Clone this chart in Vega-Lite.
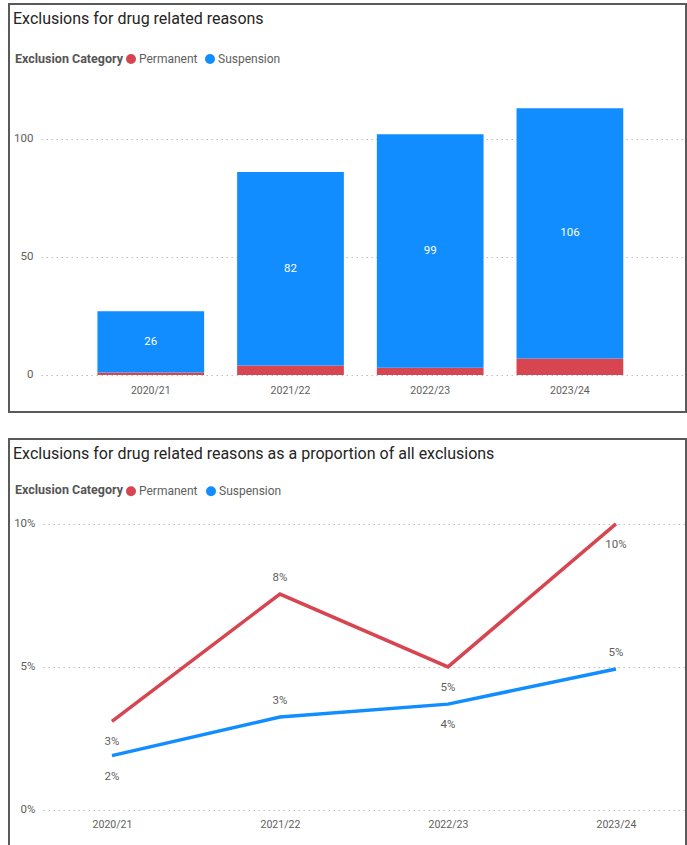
{
  "$schema": "https://vega.github.io/schema/vega-lite/v6.json",
  "padding": {"left": 8, "top": 3, "right": 2, "bottom": 0},
  "background": "white",
  "spacing": 25,
  "resolve": {"scale": {"color": "independent"}, "legend": {"color": "independent"}},
  "config": {
    "font": "Roboto",
    "view": {"stroke": "#5a5a5a", "strokeWidth": 2},
    "axisY": {"title": null, "domain": false, "ticks": false, "labelColor": "#605E5C", "labelFontSize": 11.5, "gridColor": "#bdbdbd", "gridWidth": 1},
    "axisX": {"title": null, "domain": false, "ticks": false, "grid": false, "labelAngle": 0, "labelColor": "#605E5C", "labelFontSize": 10.5, "labelPadding": -27},
    "legend": {"orient": "none", "direction": "horizontal", "titleOrient": "left", "titleAnchor": "middle", "titleBaseline": "middle", "titleFontSize": 12.5, "titleFontWeight": "bold", "titleColor": "#555555", "labelFontSize": 12, "labelColor": "#605E5C", "symbolType": "circle", "symbolSize": 100, "symbolStrokeWidth": 0, "labelOffset": 2, "columnPadding": 6, "titlePadding": 1},
    "title": {"anchor": "start", "frame": "group", "baseline": "alphabetic", "offset": -23, "dx": 4, "fontSize": 16, "fontWeight": "normal", "color": "#252423"}
  },
  "vconcat": [
    {
      "width": 677,
      "height": 408,
      "title": {"text": "Exclusions for drug related reasons"},
      "data": {"values": [
        {"year": "2020/21", "category": "Permanent", "count": 1},
        {"year": "2020/21", "category": "Suspension", "count": 26},
        {"year": "2021/22", "category": "Permanent", "count": 4},
        {"year": "2021/22", "category": "Suspension", "count": 82},
        {"year": "2022/23", "category": "Permanent", "count": 3},
        {"year": "2022/23", "category": "Suspension", "count": 99},
        {"year": "2023/24", "category": "Permanent", "count": 7},
        {"year": "2023/24", "category": "Suspension", "count": 106}
      ]},
      "encoding": {
        "x": {"field": "year", "type": "nominal", "scale": {"paddingInner": 0.236, "paddingOuter": 0.541, "align": 0.585}, "axis": {"labelPadding": -27}}
      },
      "layer": [
        {
          "mark": {"type": "bar"},
          "encoding": {
            "y": {"field": "count", "type": "quantitative", "stack": "zero", "scale": {"domain": [-15.7, 157.2], "nice": false, "zero": false},
              "axis": {"values": [0, 50, 100], "labelPadding": -24, "gridDash": [0,32,1.5,3.5,1.5,3.5,1.5,3.5,1.5,3.5,1.5,3.5,1.5,3.5,1.5,3.5,1.5,3.5,1.5,3.5,1.5,3.5,1.5,3.5,1.5,3.5,1.5,3.5,1.5,3.5,1.5,3.5,1.5,3.5,1.5,3.5,1.5,3.5,1.5,3.5,1.5,3.5,1.5,3.5,1.5,3.5,1.5,3.5,1.5,3.5,1.5,3.5,1.5,3.5,1.5,3.5,1.5,3.5,1.5,3.5,1.5,3.5,1.5,3.5,1.5,3.5,1.5,3.5,1.5,3.5,1.5,3.5,1.5,3.5,1.5,3.5,1.5,3.5,1.5,3.5,1.5,3.5,1.5,3.5,1.5,3.5,1.5,3.5,1.5,3.5,1.5,3.5,1.5,3.5,1.5,3.5,1.5,3.5,1.5,3.5,1.5,3.5,1.5,3.5,1.5,3.5,1.5,3.5,1.5,3.5,1.5,3.5,1.5,3.5,1.5,3.5,1.5,3.5,1.5,3.5,1.5,3.5,1.5,3.5,1.5,3.5,1.5,3.5,1.5,3.5,1.5,3.5,1.5,3.5,1.5,3.5,1.5,3.5,1.5,3.5,1.5,3.5,1.5,3.5,1.5,3.5,1.5,3.5,1.5,3.5,1.5,3.5,1.5,3.5,1.5,3.5,1.5,3.5,1.5,3.5,1.5,3.5,1.5,3.5,1.5,3.5,1.5,3.5,1.5,3.5,1.5,3.5,1.5,3.5,1.5,3.5,1.5,3.5,1.5,3.5,1.5,3.5,1.5,3.5,1.5,3.5,1.5,3.5,1.5,3.5,1.5,3.5,1.5,3.5,1.5,3.5,1.5,3.5,1.5,3.5,1.5,3.5,1.5,3.5,1.5,3.5,1.5,3.5,1.5,3.5,1.5,3.5,1.5,3.5,1.5,3.5,1.5,3.5,1.5,3.5,1.5,3.5,1.5,3.5,1.5,3.5,1.5,3.5,1.5,3.5,1.5,3.5,1.5,3.5,1.5,3.5,1.5,3.5,1.5,3.5,1.5,3.5,1.5,3.5,1.5,3.5,1.5,3.5,1.5,3.5,1.5,3.5,1.5,3.5,1.5,3.5,1.5,3.5,1.5,3.5,1.5,3.5,1.5,3.5,1.5,3.5,1.5,3.5,1.5,3.5,1.5,3.5,1.5,3.5,1.5,3.5,1.5,3.5,1.5,3.5,1.5,3.5,1.5,3.5,1.5,3.5,1.5,3.5,1.5,3.5,1.5,3.5,1.5,3.5,1.5,3.5,1.5,3.5,1.5,3.5,1.5,3.5,1.5,3.5,1.5,3.5,1.5,3.5,1.5,3.5,1.5,3.5,1.5,3.5,1.5,3.5,1.5,3.5,1.5,3.5,1.5,3.5,1.5,3.5,1.5,3.5,1.5,3.5,1.5,3.5,1.5,3.5,1.5,3.5,1.5,3.5,1.5,3.5,1.5,3.5,1.5,3.5,1.5,3.5,1.5,3.5,1.5,3.5]}},
            "color": {"field": "category", "type": "nominal", "scale": {"domain": ["Permanent", "Suspension"], "range": ["#D64550", "#118DFF"]},
              "legend": {"title": "Exclusion Category", "legendX": 6, "legendY": 49}},
            "order": {"field": "category", "sort": "ascending"}
          }
        },
        {
          "mark": {"type": "text", "color": "white", "fontSize": 11.5},
          "encoding": {
            "y": {"field": "count", "type": "quantitative", "stack": "zero", "bandPosition": 0.5},
            "detail": {"field": "category"},
            "order": {"field": "category", "sort": "ascending"},
            "text": {"condition": {"test": "datum.category === 'Permanent'", "value": ""}, "field": "count", "type": "quantitative"}
          }
        }
      ]
    },
    {
      "width": 677,
      "height": 407,
      "title": {"text": "Exclusions for drug related reasons as a proportion of all exclusions"},
      "data": {"values": [
        {"year": "2020/21", "category": "Permanent", "pct": 0.031},
        {"year": "2020/21", "category": "Suspension", "pct": 0.019},
        {"year": "2021/22", "category": "Permanent", "pct": 0.0755},
        {"year": "2021/22", "category": "Suspension", "pct": 0.0325},
        {"year": "2022/23", "category": "Permanent", "pct": 0.050},
        {"year": "2022/23", "category": "Suspension", "pct": 0.037},
        {"year": "2023/24", "category": "Permanent", "pct": 0.100},
        {"year": "2023/24", "category": "Suspension", "pct": 0.0493}
      ]},
      "encoding": {
        "x": {"field": "year", "type": "ordinal", "scale": {"type": "point", "padding": 0.515, "align": 0.595}, "axis": {"labelPadding": -27}},
        "y": {"field": "pct", "type": "quantitative", "scale": {"domain": [-0.0126, 0.1297], "nice": false, "zero": false},
          "axis": {"values": [0, 0.05, 0.1], "format": ".0%", "labelPadding": -26, "gridDash": [0,34,1.5,3.5,1.5,3.5,1.5,3.5,1.5,3.5,1.5,3.5,1.5,3.5,1.5,3.5,1.5,3.5,1.5,3.5,1.5,3.5,1.5,3.5,1.5,3.5,1.5,3.5,1.5,3.5,1.5,3.5,1.5,3.5,1.5,3.5,1.5,3.5,1.5,3.5,1.5,3.5,1.5,3.5,1.5,3.5,1.5,3.5,1.5,3.5,1.5,3.5,1.5,3.5,1.5,3.5,1.5,3.5,1.5,3.5,1.5,3.5,1.5,3.5,1.5,3.5,1.5,3.5,1.5,3.5,1.5,3.5,1.5,3.5,1.5,3.5,1.5,3.5,1.5,3.5,1.5,3.5,1.5,3.5,1.5,3.5,1.5,3.5,1.5,3.5,1.5,3.5,1.5,3.5,1.5,3.5,1.5,3.5,1.5,3.5,1.5,3.5,1.5,3.5,1.5,3.5,1.5,3.5,1.5,3.5,1.5,3.5,1.5,3.5,1.5,3.5,1.5,3.5,1.5,3.5,1.5,3.5,1.5,3.5,1.5,3.5,1.5,3.5,1.5,3.5,1.5,3.5,1.5,3.5,1.5,3.5,1.5,3.5,1.5,3.5,1.5,3.5,1.5,3.5,1.5,3.5,1.5,3.5,1.5,3.5,1.5,3.5,1.5,3.5,1.5,3.5,1.5,3.5,1.5,3.5,1.5,3.5,1.5,3.5,1.5,3.5,1.5,3.5,1.5,3.5,1.5,3.5,1.5,3.5,1.5,3.5,1.5,3.5,1.5,3.5,1.5,3.5,1.5,3.5,1.5,3.5,1.5,3.5,1.5,3.5,1.5,3.5,1.5,3.5,1.5,3.5,1.5,3.5,1.5,3.5,1.5,3.5,1.5,3.5,1.5,3.5,1.5,3.5,1.5,3.5,1.5,3.5,1.5,3.5,1.5,3.5,1.5,3.5,1.5,3.5,1.5,3.5,1.5,3.5,1.5,3.5,1.5,3.5,1.5,3.5,1.5,3.5,1.5,3.5,1.5,3.5,1.5,3.5,1.5,3.5,1.5,3.5,1.5,3.5,1.5,3.5,1.5,3.5,1.5,3.5,1.5,3.5,1.5,3.5,1.5,3.5,1.5,3.5,1.5,3.5,1.5,3.5,1.5,3.5,1.5,3.5,1.5,3.5,1.5,3.5,1.5,3.5,1.5,3.5,1.5,3.5,1.5,3.5,1.5,3.5,1.5,3.5,1.5,3.5,1.5,3.5,1.5,3.5,1.5,3.5,1.5,3.5,1.5,3.5,1.5,3.5,1.5,3.5,1.5,3.5,1.5,3.5,1.5,3.5,1.5,3.5,1.5,3.5,1.5,3.5,1.5,3.5,1.5,3.5,1.5,3.5,1.5,3.5,1.5,3.5,1.5,3.5,1.5,3.5,1.5,3.5,1.5,3.5,1.5,3.5,1.5,3.5,1.5,3.5,1.5,3.5,1.5,3.5,1.5,3.5,1.5,3.5,1.5,3.5,1.5,3.5,1.5,3.5]}}
      },
      "layer": [
        {
          "mark": {"type": "line", "strokeWidth": 3.5},
          "encoding": {
            "color": {"field": "category", "type": "nominal", "scale": {"domain": ["Permanent", "Suspension"], "range": ["#D64550", "#118DFF"]},
              "legend": {"title": "Exclusion Category", "legendX": 6, "legendY": 46, "titleBaseline": "alphabetic", "symbolType": "circle", "symbolSize": 25, "symbolStrokeWidth": 5, "columnPadding": 0}}
          }
        },
        {
          "transform": [{"filter": "(datum.category === 'Permanent' && datum.year === '2021/22') || (datum.category === 'Suspension' && (datum.year === '2021/22' || datum.year === '2023/24'))"}],
          "mark": {"type": "text", "dy": -16, "fontSize": 11.5, "color": "#605E5C"},
          "encoding": {"text": {"field": "pct", "type": "quantitative", "format": ".0%"}}
        },
        {
          "transform": [{"filter": "!((datum.category === 'Permanent' && datum.year === '2021/22') || (datum.category === 'Suspension' && (datum.year === '2021/22' || datum.year === '2023/24')))"}],
          "mark": {"type": "text", "dy": 21, "fontSize": 11.5, "color": "#605E5C"},
          "encoding": {"text": {"field": "pct", "type": "quantitative", "format": ".0%"}}
        }
      ]
    }
  ]
}
